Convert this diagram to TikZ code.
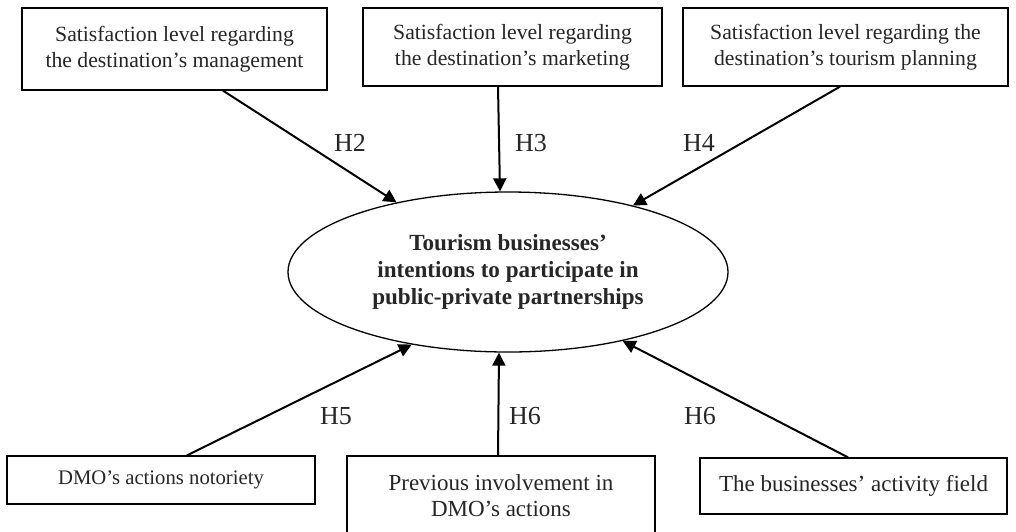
\documentclass[tikz,border=0pt]{standalone}
\usepackage{fontspec}
\setmainfont{Liberation Serif}
\usetikzlibrary{shapes.geometric,arrows.meta}

\tikzstyle{factor} = [align=center,draw=black,line width=0.65pt,rectangle,inner sep=0pt,text=black!85,font=\fontsize{10.85}{13.3}\selectfont]
\tikzstyle{outcome} = [align=center,draw=black,line width=0.65pt,ellipse,inner sep=0pt,text=black!85,font=\fontsize{11.55}{13.3}\selectfont\bfseries]
\tikzstyle{hyp} = [text=black!85,font=\fontsize{13}{15}\selectfont]
\tikzstyle{link} = [-{Triangle[length=6.5pt,width=6.5pt]},line width=1pt]

\begin{document}
\begin{tikzpicture}[x=0.5pt,y=-0.5pt]
	\useasboundingbox (0,0) rectangle (1016,531);
	% factors on top
	\node (mgmt) [factor,minimum width=152.5pt,minimum height=41pt] at (174.5,49) {Satisfaction level regarding\\the destination's management};
	\node (mkt) [factor,minimum width=149.5pt,minimum height=39pt] at (512.5,47) {Satisfaction level regarding\\the destination's marketing};
	\node (plan) [factor,minimum width=162.5pt,minimum height=39pt] at (845.5,47) {Satisfaction level regarding the\\destination's tourism planning};
	% dependent variable
	\node (intent) [outcome,minimum width=220pt,minimum height=80pt] at (508,272) {Tourism businesses'\\intentions to participate in\\public-private partnerships};
	% factors at the bottom
	\node (notor) [factor,minimum width=154pt,minimum height=24pt,font=\fontsize{10.35}{13.3}\selectfont] at (161,480) {DMO's actions notoriety};
	\node (prev) [factor,minimum width=154pt,minimum height=39.5pt,font=\fontsize{11.5}{13.3}\selectfont] at (501,495.5) {Previous involvement in\\DMO's actions};
	\node (field) [factor,minimum width=153.5pt,minimum height=28pt,font=\fontsize{11.5}{13.3}\selectfont] at (853.5,486) {The businesses' activity field};
	% hypotheses
	\draw [link] ([xshift=24.25pt]mgmt.south) -- (intent.148.5);
	\draw [link] ([xshift=-7.25pt]mkt.south) -- ([xshift=-4pt]intent.north);
	\draw [link] ([xshift=-2.75pt]plan.south) -- (intent.28.5);
	\draw [link] ([xshift=13pt]notor.north) -- (intent.-143);
	\draw [link] ([xshift=-1.5pt]prev.north) -- ([xshift=-4.5pt]intent.south);
	\draw [link] ([xshift=-2.75pt]field.north) -- (intent.-31.7);
	\node (h2) [hyp] at (350,143) {H2};
	\node (h3) [hyp] at (531,143) {H3};
	\node (h4) [hyp] at (699,143) {H4};
	\node (h5) [hyp] at (336,416) {H5};
	\node (h6a) [hyp] at (525,416) {H6};
	\node (h6b) [hyp] at (700,416) {H6};
\end{tikzpicture}
\end{document}
